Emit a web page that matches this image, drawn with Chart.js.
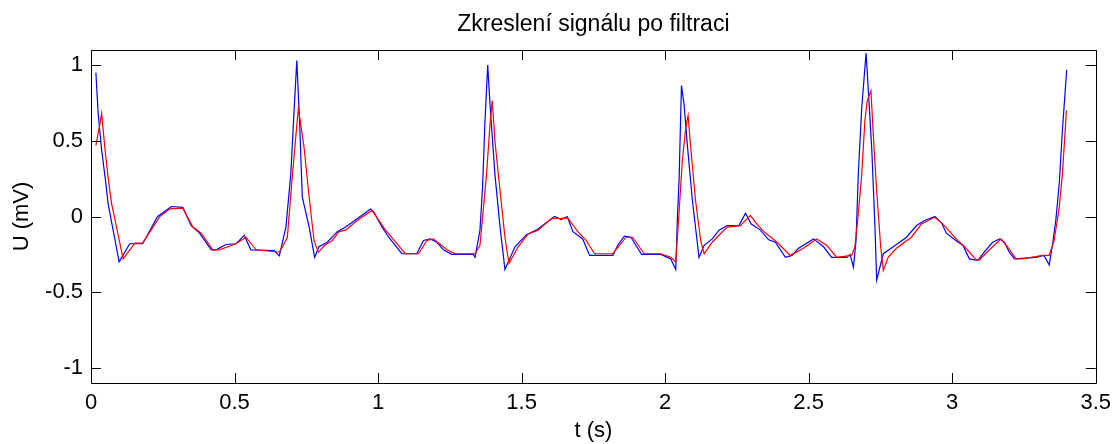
<!DOCTYPE html>
<html>
<head>
<meta charset="utf-8">
<script src="https://cdn.jsdelivr.net/npm/chart.js@4/dist/chart.umd.min.js"></script>
<style>
  html, body { margin: 0; padding: 0; background: #fff; }
  #c { display: block; }
</style>
</head>
<body>
<canvas id="c" width="1118" height="444"></canvas>
<script>
// ---- data ----
const chartTitle = 'Zkreslení signálu po filtraci';
const xTitle = 't (s)';
const yTitle = 'U (mV)';
const xTicks = [0, 0.5, 1, 1.5, 2, 2.5, 3, 3.5];
const yTicks = [-1, -0.5, 0, 0.5, 1];

// blue: original signal
const blueT = [0.017,0.025,0.037,0.049,0.060,0.098,0.135,0.180,0.232,0.280,0.320,0.349,0.378,0.419,0.436,0.470,0.505,0.534,0.557,0.638,0.656,0.679,0.696,0.708,0.717,0.727,0.736,0.760,0.779,0.794,0.823,0.858,0.887,0.927,0.974,0.985,1.014,1.037,1.083,1.135,1.158,1.182,1.205,1.228,1.257,1.332,1.338,1.355,1.364,1.372,1.382,1.390,1.407,1.425,1.442,1.477,1.517,1.551,1.580,1.615,1.638,1.659,1.679,1.713,1.737,1.818,1.835,1.858,1.881,1.898,1.918,1.985,2.020,2.037,2.043,2.049,2.052,2.057,2.066,2.078,2.095,2.112,2.118,2.136,2.164,2.188,2.216,2.257,2.280,2.300,2.332,2.361,2.384,2.419,2.442,2.465,2.517,2.552,2.580,2.633,2.644,2.656,2.665,2.673,2.685,2.700,2.708,2.720,2.731,2.737,2.760,2.795,2.841,2.876,2.904,2.940,2.962,2.980,3.014,3.037,3.060,3.089,3.118,3.141,3.165,3.182,3.199,3.217,3.292,3.320,3.338,3.350,3.361,3.373,3.384,3.399];
const blueU = [0.95,0.68,0.44,0.26,0.08,-0.30,-0.18,-0.18,0.00,0.066,0.06,-0.06,-0.11,-0.22,-0.22,-0.185,-0.18,-0.125,-0.22,-0.225,-0.26,-0.07,0.28,0.72,1.03,0.61,0.13,-0.07,-0.27,-0.20,-0.17,-0.10,-0.07,-0.015,0.05,0.03,-0.07,-0.137,-0.246,-0.246,-0.158,-0.148,-0.17,-0.22,-0.25,-0.25,-0.27,-0.09,0.19,0.61,1.00,0.74,0.28,-0.07,-0.35,-0.20,-0.12,-0.09,-0.05,0.0,-0.02,0.0,-0.10,-0.148,-0.257,-0.257,-0.19,-0.13,-0.137,-0.19,-0.25,-0.25,-0.28,-0.35,0.0,0.26,0.50,0.865,0.74,0.46,0.106,-0.17,-0.27,-0.19,-0.148,-0.09,-0.06,-0.06,0.022,-0.05,-0.09,-0.154,-0.17,-0.27,-0.257,-0.21,-0.148,-0.20,-0.27,-0.27,-0.25,-0.335,-0.16,0.28,0.72,1.08,0.83,0.44,-0.07,-0.42,-0.246,-0.20,-0.137,-0.06,-0.026,0.0,-0.04,-0.11,-0.16,-0.19,-0.28,-0.29,-0.22,-0.17,-0.148,-0.17,-0.236,-0.28,-0.27,-0.257,-0.32,-0.18,-0.026,0.216,0.57,0.97];

// red: filtered signal
const redT = [0.017,0.031,0.037,0.049,0.060,0.072,0.112,0.153,0.180,0.240,0.274,0.320,0.355,0.384,0.424,0.447,0.505,0.540,0.575,0.656,0.667,0.684,0.702,0.722,0.727,0.742,0.760,0.777,0.792,0.817,0.840,0.864,0.887,0.927,0.979,1.026,1.095,1.141,1.170,1.193,1.240,1.268,1.338,1.355,1.361,1.378,1.390,1.398,1.407,1.425,1.442,1.456,1.488,1.523,1.557,1.603,1.661,1.696,1.725,1.754,1.818,1.864,1.887,1.927,1.985,2.020,2.037,2.049,2.060,2.072,2.080,2.089,2.106,2.124,2.136,2.164,2.216,2.262,2.297,2.320,2.344,2.390,2.436,2.482,2.528,2.563,2.598,2.650,2.661,2.673,2.685,2.696,2.704,2.717,2.725,2.737,2.751,2.760,2.777,2.806,2.858,2.893,2.939,2.968,3.014,3.043,3.084,3.095,3.130,3.170,3.193,3.222,3.245,3.315,3.338,3.355,3.373,3.384,3.398];
const redU = [0.47,0.61,0.68,0.44,0.25,0.084,-0.28,-0.176,-0.176,0.0,0.05,0.055,-0.07,-0.11,-0.22,-0.22,-0.18,-0.137,-0.22,-0.236,-0.20,-0.137,0.28,0.71,0.656,0.46,0.127,-0.16,-0.236,-0.185,-0.16,-0.10,-0.09,-0.026,0.04,-0.09,-0.246,-0.246,-0.158,-0.148,-0.22,-0.246,-0.246,-0.19,-0.07,0.28,0.61,0.766,0.50,0.17,-0.137,-0.31,-0.20,-0.115,-0.09,-0.015,-0.01,-0.10,-0.158,-0.246,-0.246,-0.137,-0.137,-0.246,-0.246,-0.27,-0.30,0.04,0.37,0.59,0.667,0.46,0.106,-0.16,-0.246,-0.17,-0.07,-0.06,0.007,-0.05,-0.10,-0.17,-0.257,-0.21,-0.148,-0.19,-0.27,-0.257,-0.20,0.018,0.28,0.634,0.766,0.83,0.546,0.17,-0.20,-0.356,-0.27,-0.21,-0.137,-0.05,-0.005,-0.05,-0.148,-0.20,-0.286,-0.286,-0.22,-0.148,-0.20,-0.28,-0.28,-0.257,-0.257,-0.16,0.06,0.28,0.70];

// ---- chart ----
const FONT = "'Liberation Sans', Arial, Helvetica, sans-serif";
const toXY = (t, u) => t.map((v, i) => ({ x: v, y: u[i] }));
const fmt = v => String(v);

const boxPlugin = {
  id: 'matlabBox',
  afterDatasetsDraw(chart) {
    const { ctx, chartArea: a, scales } = chart;
    const L = 10;
    ctx.save();
    ctx.strokeStyle = '#000';
    ctx.lineWidth = 1;
    ctx.beginPath();
    ctx.rect(Math.round(a.left) + 0.5, Math.round(a.top) + 0.5, Math.round(a.right - a.left), Math.round(a.bottom - a.top));
    xTicks.forEach(v => {
      const px = Math.round(scales.x.getPixelForValue(v)) + 0.5;
      ctx.moveTo(px, a.bottom); ctx.lineTo(px, a.bottom - L);
      ctx.moveTo(px, a.top); ctx.lineTo(px, a.top + L);
    });
    yTicks.forEach(v => {
      const py = Math.round(scales.y.getPixelForValue(v)) + 0.5;
      ctx.moveTo(a.left, py); ctx.lineTo(a.left + L, py);
      ctx.moveTo(a.right, py); ctx.lineTo(a.right - L, py);
    });
    ctx.stroke();
    ctx.restore();
  }
};

new Chart(document.getElementById('c'), {
  type: 'line',
  data: {
    datasets: [
      { label: 'filtrovaný', data: toXY(redT, redU), borderColor: '#ff0000', borderWidth: 1.2, pointRadius: 0, tension: 0, fill: false },
      { label: 'původní', data: toXY(blueT, blueU), borderColor: '#0000ff', borderWidth: 1.2, pointRadius: 0, tension: 0, fill: false }
    ]
  },
  options: {
    responsive: false,
    animation: false,
    devicePixelRatio: 1,
    layout: { padding: { left: 0, right: 18, top: 0, bottom: 0 } },
    plugins: {
      legend: { display: false },
      tooltip: { enabled: false },
      title: {
        display: true, text: chartTitle, color: '#000', fullSize: false,
        font: { family: FONT, size: 23, weight: 'normal' },
        padding: { top: 11, bottom: 11.4 }
      }
    },
    scales: {
      x: {
        type: 'linear', min: 0, max: 3.5,
        afterBuildTicks: s => { s.ticks = xTicks.map(v => ({ value: v })); },
        afterFit: s => { s.height = 61; },
        grid: { display: false, drawTicks: false },
        border: { display: false },
        ticks: { color: '#000', padding: 7, maxRotation: 0, callback: fmt, font: { family: FONT, size: 22 } },
        title: { display: true, text: xTitle, color: '#000', padding: { top: 0, bottom: 0 }, font: { family: FONT, size: 22 } }
      },
      y: {
        type: 'linear', min: -1.1, max: 1.1,
        afterBuildTicks: s => { s.ticks = yTicks.map(v => ({ value: v })); },
        afterFit: s => { s.width = 91; },
        grid: { display: false, drawTicks: false },
        border: { display: false },
        ticks: { color: '#000', padding: 8, callback: fmt, font: { family: FONT, size: 22 } },
        title: { display: true, text: yTitle, color: '#000', padding: { top: 9, bottom: 0 }, font: { family: FONT, size: 22 } }
      }
    }
  },
  plugins: [boxPlugin]
});
</script>
</body>
</html>
